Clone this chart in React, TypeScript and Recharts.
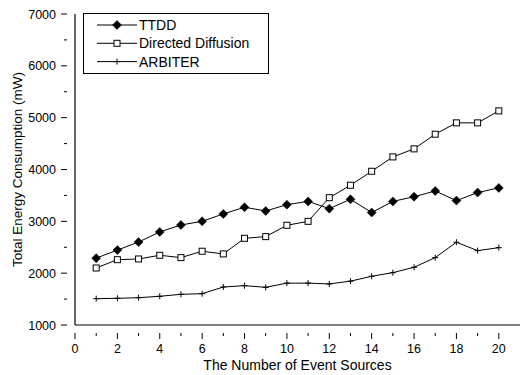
import React from 'react';
import { LineChart, Line, XAxis, YAxis } from 'recharts';

const sources = [1, 2, 3, 4, 5, 6, 7, 8, 9, 10, 11, 12, 13, 14, 15, 16, 17, 18, 19, 20];
const ttdd = [2290, 2445, 2600, 2795, 2930, 3000, 3143, 3272, 3200, 3322, 3385, 3245, 3425, 3170, 3385, 3475, 3585, 3400, 3555, 3645];
const directedDiffusion = [2100, 2260, 2274, 2345, 2300, 2423, 2371, 2673, 2705, 2924, 3000, 3456, 3696, 3966, 4243, 4398, 4681, 4900, 4900, 5131];
const arbiter = [1508, 1515, 1527, 1554, 1592, 1604, 1733, 1759, 1727, 1808, 1808, 1792, 1846, 1940, 2010, 2114, 2300, 2597, 2435, 2492];

const xTicks = [0, 1, 2, 3, 4, 5, 6, 7, 8, 9, 10, 11, 12, 13, 14, 15, 16, 17, 18, 19, 20, 21];
const yTicks = [1000, 1500, 2000, 2500, 3000, 3500, 4000, 4500, 5000, 5500, 6000, 6500, 7000];

const data = sources.map((x, i) => ({
  x,
  ttdd: ttdd[i],
  dd: directedDiffusion[i],
  arbiter: arbiter[i],
}));

const font = '"Liberation Sans", Arial, sans-serif';

function Diamond({ cx, cy }: any) {
  if (cx == null || cy == null) return null;
  const r = 4.5;
  return <path d={`M${cx},${cy - r}L${cx + r},${cy}L${cx},${cy + r}L${cx - r},${cy}Z`} fill="#000" stroke="#000" strokeWidth={0.5} />;
}

function Square({ cx, cy }: any) {
  if (cx == null || cy == null) return null;
  return <rect x={cx - 3} y={cy - 3} width={6} height={6} fill="#fff" stroke="#000" strokeWidth={1} />;
}

function Plus({ cx, cy }: any) {
  if (cx == null || cy == null) return null;
  return (
    <path d={`M${cx - 3},${cy}H${cx + 3}M${cx},${cy - 3}V${cy + 3}`} stroke="#000" strokeWidth={1} fill="none" />
  );
}

function XTick({ x, y, payload }: any) {
  const v = payload.value;
  const major = v % 2 === 0 && v <= 20;
  if (v > 20) return null;
  return (
    <g>
      <line x1={x} x2={x} y1={y} y2={y + (major ? 6 : 3)} stroke="#000" strokeWidth={1} />
      {major && (
        <text x={x} y={y + 20} textAnchor="middle" fontSize={12.5} fontFamily={font} fill="#000">
          {v}
        </text>
      )}
    </g>
  );
}

function YTick({ x, y, payload }: any) {
  const v = payload.value;
  const major = v % 1000 === 0;
  return (
    <g>
      <line x1={x} x2={x - (major ? 6 : 3)} y1={y} y2={y} stroke="#000" strokeWidth={1} />
      {major && (
        <text x={x - 11} y={y + 4.5} textAnchor="end" fontSize={12.5} fontFamily={font} fill="#000">
          {v}
        </text>
      )}
    </g>
  );
}

function YTitle({ viewBox }: any) {
  const cy = viewBox.y + viewBox.height / 2;
  return (
    <text x={0} y={0} transform={`translate(22,${cy}) rotate(-90)`} textAnchor="middle" fontSize={13.5} fontFamily={font} fill="#000">
      Total Energy Consumption (mW)
    </text>
  );
}

function XTitle({ viewBox }: any) {
  const cx = viewBox.x + viewBox.width / 2;
  return (
    <text x={cx} y={370} textAnchor="middle" fontSize={14} fontFamily={font} fill="#000">
      The Number of Event Sources
    </text>
  );
}

const legendItems = [
  { name: 'TTDD', Marker: Diamond },
  { name: 'Directed Diffusion', Marker: Square },
  { name: 'ARBITER', Marker: Plus },
];

function LegendBox() {
  return (
    <svg width={186} height={61} style={{ position: 'absolute', left: 83, top: 13 }}>
      <rect x={0.5} y={0.5} width={185} height={60} fill="#fff" stroke="#000" strokeWidth={1} />
      {legendItems.map((it, i) => {
        const cy = 12 + i * 18.3;
        return (
          <g key={it.name}>
            <line x1={14} x2={54} y1={cy} y2={cy} stroke="#000" strokeWidth={1} />
            <it.Marker cx={34} cy={cy} />
            <text x={56} y={cy + 5} fontSize={14} fontFamily={font} fill="#000">
              {it.name}
            </text>
          </g>
        );
      })}
    </svg>
  );
}

export default function App() {
  return (
    <div style={{ position: 'relative', width: 520, height: 375, background: '#fff' }}>
      <style>{`body{margin:0;}`}</style>
      <LineChart width={520} height={375} data={data} margin={{ top: 14, right: 0, left: 0, bottom: 0 }}>
        <XAxis
          dataKey="x"
          type="number"
          domain={[0, 21]}
          ticks={xTicks}
          interval={0}
          height={50}
          stroke="#000"
          strokeWidth={1.2}
          tickLine={false}
          tick={<XTick />}
          label={<XTitle />}
        />
        <YAxis
          type="number"
          domain={[1000, 7000]}
          ticks={yTicks}
          interval={0}
          width={75}
          stroke="#000"
          strokeWidth={1.2}
          tickLine={false}
          tick={<YTick />}
          label={<YTitle />}
        />
        <Line dataKey="ttdd" stroke="#000" strokeWidth={1} dot={<Diamond />} isAnimationActive={false} />
        <Line dataKey="dd" stroke="#000" strokeWidth={1} dot={<Square />} isAnimationActive={false} />
        <Line dataKey="arbiter" stroke="#000" strokeWidth={1} dot={<Plus />} isAnimationActive={false} />
      </LineChart>
      <LegendBox />
    </div>
  );
}
